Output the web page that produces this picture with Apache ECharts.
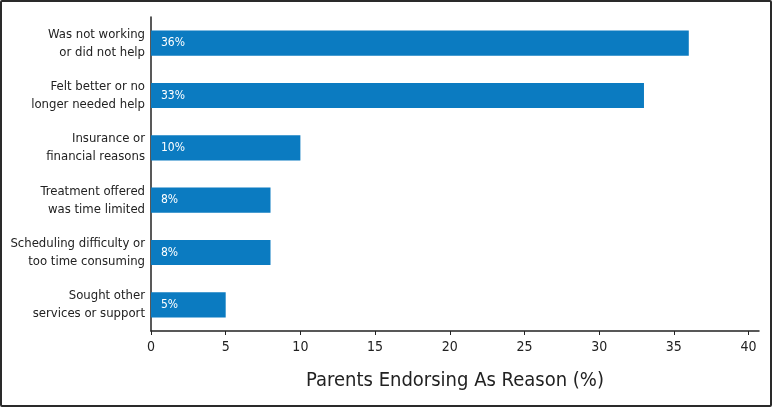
<!DOCTYPE html>
<html>
<head>
<meta charset="utf-8">
<script src="https://cdn.jsdelivr.net/npm/echarts@6/dist/echarts.min.js"></script>
<style>
  html, body { margin: 0; padding: 0; background: #fff; }
  #wrap { position: relative; width: 775px; height: 408px; }
  #chart { position: absolute; left: 0; top: 0; width: 775px; height: 408px; }
  #frame { position: absolute; left: 0px; top: 0px; width: 768px; height: 403px; border: 2px solid #2a2a2a; border-radius: 2px; pointer-events: none; }
</style>
</head>
<body>
<div id="wrap">
  <div id="chart"></div>
  <div id="frame"></div>
</div>
<script>
// Data (top to bottom as shown)
var categories = [
  "Was not working\nor did not help",
  "Felt better or no\nlonger needed help",
  "Insurance or\nfinancial reasons",
  "Treatment offered\nwas time limited",
  "Scheduling difficulty or\ntoo time consuming",
  "Sought other\nservices or support"
];
var values = [36, 33, 10, 8, 8, 5];
var xTicks = [0, 5, 10, 15, 20, 25, 30, 35, 40];
var xAxisTitle = "Parents Endorsing As Reason (%)";

var FONT = "'Liberation Sans Narrow', 'DejaVu Sans Condensed', 'Roboto', sans-serif";

var chart = echarts.init(document.getElementById('chart'), null, { renderer: 'canvas' });
chart.setOption({
  animation: false,
  backgroundColor: '#ffffff',
  grid: { left: 151, right: 16, top: 17, bottom: 77, containLabel: false, outerBoundsMode: 'none' },
  xAxis: {
    type: 'value',
    min: 0,
    max: 40.7,
    name: xAxisTitle,
    nameLocation: 'middle',
    nameGap: 40,
    nameTextStyle: { fontFamily: FONT, fontSize: 20, color: '#222' },
    axisLine: { show: true, lineStyle: { color: '#222', width: 1.5 } },
    axisTick: { show: true, length: 4, customValues: xTicks, lineStyle: { color: '#222' } },
    axisLabel: { customValues: xTicks, fontFamily: FONT, fontSize: 14, color: '#222', margin: 9 },
    splitLine: { show: false }
  },
  yAxis: {
    type: 'category',
    data: categories,
    inverse: true,
    axisLine: { show: true, lineStyle: { color: '#222', width: 1.5 } },
    axisTick: { show: false },
    axisLabel: {
      fontFamily: FONT, fontSize: 13, color: '#222', margin: 6,
      lineHeight: 18, align: 'right', padding: [4, 0, 0, 0]
    },
    splitLine: { show: false }
  },
  series: [{
    type: 'bar',
    data: values,
    barWidth: '48%',
    itemStyle: { color: '#0B7BC1' },
    label: {
      show: true,
      position: 'insideLeft',
      distance: 10,
      formatter: '{c}%',
      fontFamily: FONT,
      fontSize: 12,
      color: '#ffffff'
    }
  }]
});
</script>
</body>
</html>
